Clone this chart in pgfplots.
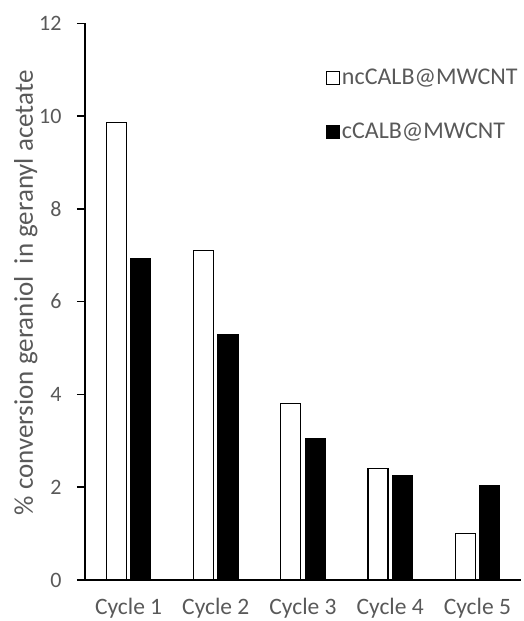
\documentclass[border=0pt]{standalone}
\usepackage{fontspec}
\setmainfont{Carlito}
\usepackage{pgfplots}
\pgfplotsset{compat=1.18}
\definecolor{txtgray}{HTML}{595959}
\begin{document}
\begin{tikzpicture}
\useasboundingbox (-85bp,-41bp) rectangle (439bp,580bp);
\begin{axis}[
  at={(0,0)}, anchor=south west,
  scale only axis, width=436bp, height=556.7bp,
  xmin=0.5, xmax=5.5, ymin=0, ymax=12,
  ybar=4.5bp, bar width=20bp,
  axis lines*=left, axis line style={line width=2.2bp, -},
  xtick={1,2,3,4,5},
  xticklabels={Cycle 1,Cycle 2,Cycle 3,Cycle 4,Cycle 5},
  x tick style={draw=none},
  ytick={0,2,4,6,8,10,12},
  y tick style={line width=1.5bp, black},
  tick align=outside, major tick length=8bp,
  ticklabel style={text=txtgray},
  xticklabel style={font=\fontsize{23.5bp}{28bp}\selectfont, yshift=-6.5bp},
  yticklabel style={font=\fontsize{22bp}{26bp}\selectfont, xshift=-12bp},
  /pgf/number format/assume math mode=true,
  ylabel={\% conversion geraniol\ \ in geranyl acetate},
  ylabel style={font=\fontsize{27bp}{32bp}\selectfont, text=txtgray, at={(axis description cs:-0.136,0.516)}, anchor=center},
  legend cell align=left,
  legend style={draw=none, fill=none, at={(axis description cs:0.545,0.925)}, anchor=north west,
    font=\fontsize{24bp}{28bp}\selectfont, text=txtgray, row sep=33bp,
    /tikz/every even column/.append style={column sep=6bp}},
  legend image code/.code={\draw[#1, line width=1.2bp] (0bp,-6.5bp) rectangle (13bp,6.5bp);},
]
\addplot[fill=white, draw=black, line width=1.2bp] coordinates {(1,9.86) (2,7.11) (3,3.81) (4,2.41) (5,1.01)};
\addlegendentry{ncCALB@MWCNT}
\addplot[fill=black, draw=black, line width=1.2bp] coordinates {(1,6.92) (2,5.29) (3,3.05) (4,2.24) (5,2.03)};
\addlegendentry{cCALB@MWCNT}
\end{axis}
\end{tikzpicture}
\end{document}
